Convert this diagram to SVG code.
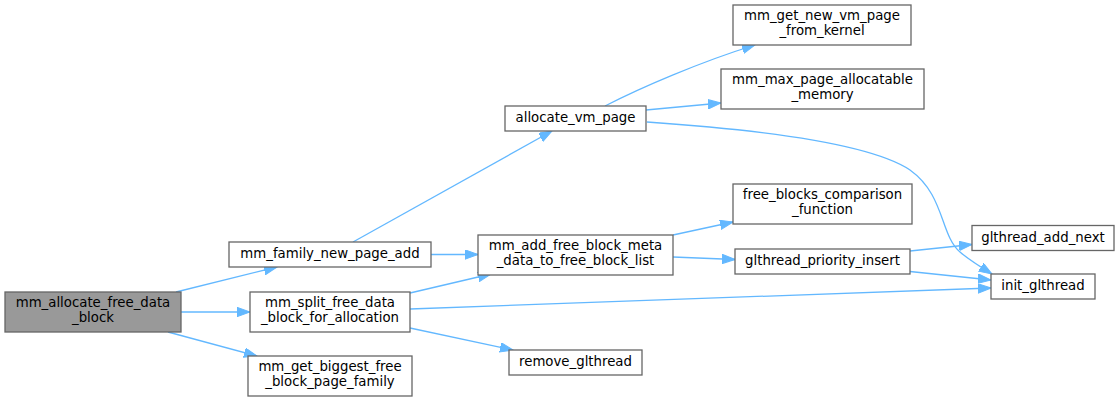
<svg xmlns="http://www.w3.org/2000/svg" width="1120" height="401" viewBox="0 0 1120 401">
<style>
.n rect{fill:#ffffff;stroke:#666666;stroke-width:1.3}
.n.root rect{fill:#999999}
.n text{font-family:"DejaVu Sans","Liberation Sans",sans-serif;font-size:13.3px;fill:#000000;text-anchor:middle}
.e path{fill:none;stroke:#63b8ff;stroke-width:1.3;marker-end:url(#ah)}
</style>
<defs>
<marker id="ah" markerUnits="userSpaceOnUse" markerWidth="14" markerHeight="10" refX="13" refY="4.7" orient="auto">
<polygon points="0,0 13,4.7 0,9.4" fill="#63b8ff" stroke="#63b8ff" stroke-width="1"/>
</marker>
</defs>
<rect x="0" y="0" width="1120" height="401" fill="#ffffff"/>
<g id="edges" class="e">
<path d="M176,292 L277,267"/>
<path d="M181,312 L250,312"/>
<path d="M168,332 L257,356"/>
<path d="M353,242 L552,131"/>
<path d="M431,254.5 L478,254.5"/>
<path d="M410,293 L491,274"/>
<path d="M410,309 L991,288"/>
<path d="M410,328 L513,350"/>
<path d="M605,106 C640,88 700,62 755,45"/>
<path d="M646,110 L721,103"/>
<path d="M647,122 C735,128 865,140 910,170 C945,195 940,235 960,252 C968,259 979,266 992,274"/>
<path d="M673,235 L733,222"/>
<path d="M673,257 L735,259.5"/>
<path d="M910,251 L972,244.5"/>
<path d="M910,271.5 L991,280"/>
</g>
<g id="node1" class="n root"><rect x="5" y="292" width="176" height="40"/><text x="93" y="307">mm_allocate_free_data</text><text x="93" y="322">_block</text></g>
<g id="node2" class="n"><rect x="229" y="242" width="202" height="25"/><text x="330" y="258">mm_family_new_page_add</text></g>
<g id="node3" class="n"><rect x="250" y="292" width="160" height="40"/><text x="330" y="307">mm_split_free_data</text><text x="330" y="322">_block_for_allocation</text></g>
<g id="node4" class="n"><rect x="248" y="356" width="164" height="40"/><text x="330" y="371">mm_get_biggest_free</text><text x="330" y="386">_block_page_family</text></g>
<g id="node5" class="n"><rect x="505" y="106" width="141" height="25"/><text x="575.5" y="122">allocate_vm_page</text></g>
<g id="node6" class="n"><rect x="733" y="5" width="178" height="40"/><text x="822" y="20">mm_get_new_vm_page</text><text x="822" y="35">_from_kernel</text></g>
<g id="node7" class="n"><rect x="721" y="69" width="203" height="40"/><text x="822.5" y="84">mm_max_page_allocatable</text><text x="822.5" y="99">_memory</text></g>
<g id="node8" class="n"><rect x="478" y="235" width="195" height="40"/><text x="575.5" y="250">mm_add_free_block_meta</text><text x="575.5" y="265">_data_to_free_block_list</text></g>
<g id="node9" class="n"><rect x="733" y="184" width="179" height="40"/><text x="822.5" y="199">free_blocks_comparison</text><text x="822.5" y="214">_function</text></g>
<g id="node10" class="n"><rect x="735" y="249" width="175" height="25"/><text x="822.5" y="265">glthread_priority_insert</text></g>
<g id="node11" class="n"><rect x="972" y="225.5" width="142" height="25"/><text x="1043" y="241.5">glthread_add_next</text></g>
<g id="node12" class="n"><rect x="991" y="274" width="104" height="25"/><text x="1043" y="290">init_glthread</text></g>
<g id="node13" class="n"><rect x="509" y="350" width="133" height="25"/><text x="575.5" y="366">remove_glthread</text></g>
</svg>
